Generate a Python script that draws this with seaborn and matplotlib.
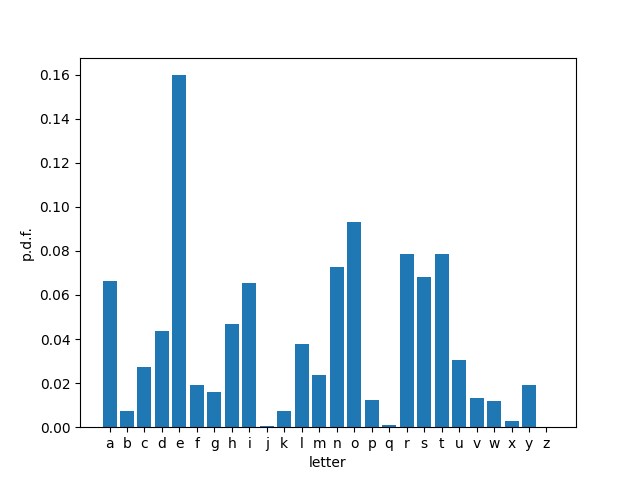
import matplotlib
matplotlib.use("Agg")
import matplotlib.pyplot as plt
import seaborn as sns
import pandas as pd

letters = list("abcdefghijklmnopqrstuvwxyz")
pdf = [0.0663, 0.0074, 0.0273, 0.0437, 0.1597, 0.0192, 0.0160, 0.0468,
       0.0654, 0.0006, 0.0074, 0.0376, 0.0237, 0.0727, 0.0931, 0.0124,
       0.0010, 0.0786, 0.0681, 0.0786, 0.0304, 0.0131, 0.0118, 0.0029,
       0.0190, 0.0001]

df = pd.DataFrame({"letter": letters, "p.d.f.": pdf})

fig, ax = plt.subplots(figsize=(6.4, 4.8), dpi=100)
sns.barplot(data=df, x="letter", y="p.d.f.", color="#1f77b4",
            saturation=1, width=0.8, ax=ax, errorbar=None)
n = len(letters)
ax.set_xlim(-0.4 - 0.05 * (n - 0.2), n - 0.6 + 0.05 * (n - 0.2))
ax.set_ylim(0, max(pdf) * 1.05)
ax.set_xlabel("letter")
ax.set_ylabel("p.d.f.")
fig.savefig("out.png", dpi=100)
